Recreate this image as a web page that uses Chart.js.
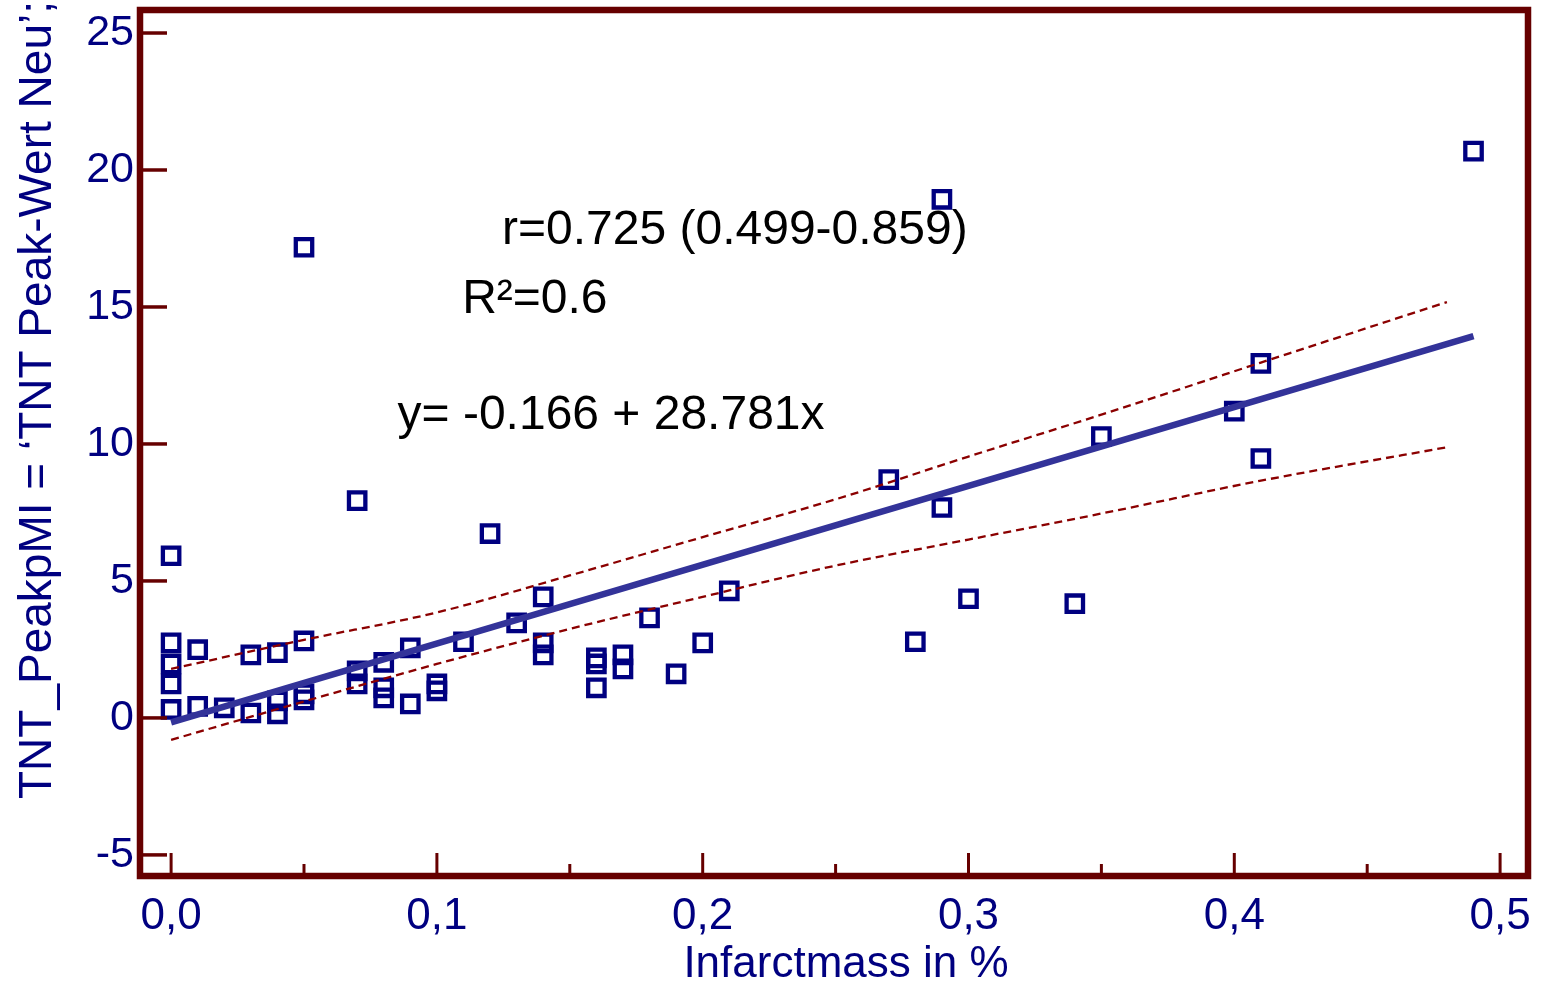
<!DOCTYPE html>
<html>
<head>
<meta charset="utf-8">
<title>TNT peak vs. infarct mass</title>
<script src="https://cdn.jsdelivr.net/npm/chart.js@4.4.0/dist/chart.umd.min.js"></script>
<style>
  html, body { margin: 0; padding: 0; background: #ffffff; }
  #wrap { width: 1554px; height: 983px; position: relative; }
</style>
</head>
<body>
<div id="wrap"><canvas id="chart"></canvas></div>
<script>
// Measured patients: infarct mass (%) and TNT peak value
const infarctMass = [0, 0, 0, 0, 0, 0.01, 0.01, 0.02, 0.03, 0.03, 0.04, 0.04, 0.04,
  0.05, 0.05, 0.05, 0.05, 0.07, 0.07, 0.07, 0.08, 0.08, 0.08, 0.09, 0.09, 0.10, 0.10,
  0.11, 0.12, 0.13, 0.14, 0.14, 0.14, 0.16, 0.16, 0.16, 0.17, 0.17, 0.18, 0.19, 0.20,
  0.21, 0.27, 0.28, 0.29, 0.29, 0.30, 0.34, 0.35, 0.40, 0.41, 0.41, 0.49];
const tntPeak = [5.92, 2.74, 1.97, 1.24, 0.31, 2.49, 0.42, 0.37, 2.30, 0.18, 2.38, 0.62, 0.15,
  17.18, 2.81, 0.88, 0.66, 7.93, 1.72, 1.24, 2.03, 1.10, 0.73, 2.56, 0.51, 1.24, 0.99,
  2.78, 6.73, 3.47, 4.42, 2.74, 2.30, 2.19, 1.97, 1.10, 2.30, 1.79, 3.65, 1.61, 2.74,
  4.64, 8.70, 2.78, 18.93, 7.68, 4.35, 4.17, 10.27, 11.20, 12.94, 9.47, 20.69];

// Regression fit as printed on the chart, evaluated at the ends of the fitted range
const intercept = -0.166;
const slope = 28.781;
const fitX = [0, 0.49];
const fitY = [-0.166, 13.937];

// 95% confidence band of the fit
const bandX = [0, 0.05, 0.10, 0.15, 0.20, 0.25, 0.30, 0.35, 0.41, 0.48];
const upperBand = [1.79, 2.85, 3.85, 5.20, 6.60, 7.98, 9.54, 11.07, 12.97, 15.18];
const lowerBand = [-0.80, 0.60, 1.97, 3.25, 4.42, 5.56, 6.51, 7.46, 8.66, 9.88];

// Axis ticks
const xTickValues = [0, 0.1, 0.2, 0.3, 0.4, 0.5];
const xTickLabels = ['0,0', '0,1', '0,2', '0,3', '0,4', '0,5'];
const xMinorTickValues = [0.05, 0.15, 0.25, 0.35, 0.45];
const yTickValues = [-5, 0, 5, 10, 15, 20, 25];
const yTickLabels = ['-5', '0', '5', '10', '15', '20', '25'];

// Statistics text
const statLines = ['r=0.725 (0.499-0.859)', 'R\u00B2=0.6', 'y= ' + intercept + ' + ' + slope + 'x'];

const xTitle = 'Infarctmass in %';
const yTitle = 'TNT_PeakpMI = \u2018TNT Peak-Wert Neu\u2019;';

const FONT = "'Liberation Sans', Arial, Helvetica, sans-serif";
const NAVY = '#000080';
const FRAME = '#660000';

const toPoints = (xs, ys) => xs.map((v, i) => ({ x: v, y: ys[i] }));

// Frame, inward tick marks, axis titles and statistics text
const framePlugin = {
  id: 'frameAndText',
  afterDatasetsDraw(chart) {
    const { ctx, chartArea: a, scales } = chart;
    const xs = scales.x, ys = scales.y;
    ctx.save();
    ctx.strokeStyle = FRAME;
    ctx.lineCap = 'butt';

    ctx.lineWidth = 3.5;
    yTickValues.forEach(v => {
      const py = ys.getPixelForValue(v);
      ctx.beginPath();
      ctx.moveTo(a.left, py);
      ctx.lineTo(a.left + 27, py);
      ctx.stroke();
    });
    ctx.lineWidth = 3;
    xTickValues.forEach(v => {
      const px = xs.getPixelForValue(v);
      ctx.beginPath();
      ctx.moveTo(px, a.bottom);
      ctx.lineTo(px, a.bottom - 23);
      ctx.stroke();
    });
    xMinorTickValues.forEach(v => {
      const px = xs.getPixelForValue(v);
      ctx.beginPath();
      ctx.moveTo(px, a.bottom);
      ctx.lineTo(px, a.bottom - 12);
      ctx.stroke();
    });

    ctx.lineWidth = 6.5;
    ctx.strokeRect(a.left, a.top, a.right - a.left, a.bottom - a.top);

    // statistics, anchored in data coordinates
    const anchors = [[0.1245, 17.29], [0.1095, 14.77], [0.0852, 10.56]];
    ctx.fillStyle = '#000000';
    ctx.font = '48px ' + FONT;
    ctx.textAlign = 'left';
    ctx.textBaseline = 'alphabetic';
    statLines.forEach((t, i) => {
      ctx.fillText(t, xs.getPixelForValue(anchors[i][0]), ys.getPixelForValue(anchors[i][1]));
    });

    // axis titles
    ctx.fillStyle = NAVY;
    ctx.font = '44px ' + FONT;
    ctx.textAlign = 'center';
    ctx.fillText(xTitle, (a.left + a.right) / 2 + 12, a.bottom + 101);

    ctx.font = '46px ' + FONT;
    ctx.textAlign = 'left';
    ctx.translate(51, a.bottom - 77);
    ctx.rotate(-Math.PI / 2);
    ctx.fillText(yTitle, 0, 0);
    ctx.restore();
  }
};

new Chart(document.getElementById('chart'), {
  type: 'scatter',
  data: {
    datasets: [
      {
        type: 'line',
        label: 'Regression',
        data: toPoints(fitX, fitY),
        borderColor: '#333399',
        borderWidth: 6.5,
        pointRadius: 0,
        fill: false,
        order: 0
      },
      {
        type: 'line',
        label: 'Upper 95% CI',
        data: toPoints(bandX, upperBand),
        borderColor: '#8b0000',
        borderWidth: 2.3,
        borderDash: [8, 5],
        cubicInterpolationMode: 'monotone',
        pointRadius: 0,
        fill: false,
        order: 1
      },
      {
        type: 'line',
        label: 'Lower 95% CI',
        data: toPoints(bandX, lowerBand),
        borderColor: '#8b0000',
        borderWidth: 2.3,
        borderDash: [8, 5],
        cubicInterpolationMode: 'monotone',
        pointRadius: 0,
        fill: false,
        order: 1
      },
      {
        label: 'TNT_PeakpMI',
        data: toPoints(infarctMass, tntPeak),
        pointStyle: 'rect',
        pointRadius: 11.6,
        pointHoverRadius: 11.6,
        borderColor: NAVY,
        borderWidth: 4.3,
        backgroundColor: 'rgba(0,0,0,0)',
        order: 2
      }
    ]
  },
  options: {
    responsive: true,
    maintainAspectRatio: false,
    animation: false,
    layout: { autoPadding: false, padding: { top: 10, right: 26, left: 0, bottom: 0 } },
    plugins: { legend: { display: false }, tooltip: { enabled: false } },
    scales: {
      x: {
        type: 'linear',
        min: -0.0117,
        max: 0.5105,
        grid: { display: false, drawTicks: false },
        border: { display: false },
        afterBuildTicks(s) { s.ticks = xTickValues.map(v => ({ value: v })); },
        afterFit(s) { s.height = 107; s.paddingLeft = 0; s.paddingRight = 0; },
        ticks: {
          color: NAVY,
          font: { family: FONT, size: 44 },
          padding: 14,
          maxRotation: 0,
          autoSkip: false,
          callback: (v, i) => xTickLabels[i]
        }
      },
      y: {
        type: 'linear',
        min: -5.77,
        max: 25.84,
        grid: { display: false, drawTicks: false },
        border: { display: false },
        afterBuildTicks(s) { s.ticks = yTickValues.map(v => ({ value: v })); },
        afterFit(s) { s.width = 140; s.paddingTop = 0; s.paddingBottom = 0; },
        ticks: {
          color: NAVY,
          font: { family: FONT, size: 43 },
          padding: 6,
          autoSkip: false,
          callback: (v, i) => yTickLabels[i]
        }
      }
    }
  },
  plugins: [framePlugin]
});
</script>
</body>
</html>
